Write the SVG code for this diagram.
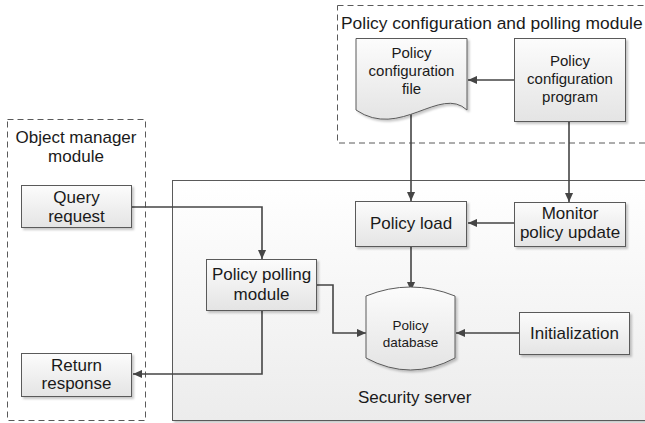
<svg xmlns="http://www.w3.org/2000/svg" width="645" height="423" viewBox="0 0 645 423">
<style>
text{font-family:"Liberation Sans",Arial,sans-serif;fill:#1a1a1a}
.t17{font-size:17px}
.tt{font-size:17.4px}
.t15{font-size:15px}
.t13{font-size:13.5px}
.mid{text-anchor:middle}
.node{fill:url(#g);stroke:#5a5a5a;stroke-width:1;filter:url(#sh)}
.dash{fill:none;stroke:#5a5a5a;stroke-width:1;stroke-dasharray:6,4}
.conn{fill:none;stroke:#454545;stroke-width:1.6;marker-end:url(#ah)}
</style>
<defs>
<linearGradient id="g" x1="0" y1="0" x2="0" y2="1">
<stop offset="0" stop-color="#fcfcfc"/>
<stop offset="1" stop-color="#e4e4e4"/>
</linearGradient>
<linearGradient id="gs" x1="0" y1="0" x2="0" y2="1">
<stop offset="0" stop-color="#ffffff"/>
<stop offset="1" stop-color="#ececec"/>
</linearGradient>
<filter id="sh" x="-10%" y="-10%" width="130%" height="130%">
<feDropShadow dx="2" dy="2" stdDeviation="1.2" flood-color="#000" flood-opacity="0.22"/>
</filter>
<marker id="ah" viewBox="0 0 10 10" refX="10" refY="5" markerWidth="9" markerHeight="9" markerUnits="userSpaceOnUse" orient="auto">
<path d="M0,0.5 L10,5 L0,9.5 Z" fill="#454545"/>
</marker>
</defs>

<g id="policy-config-module">
<rect class="dash" x="337.5" y="5.5" width="330" height="137.5"/>
<text class="tt" x="341" y="28.5">Policy configuration and polling module</text>
</g>

<g id="object-manager-module">
<rect class="dash" x="7.5" y="119.5" width="138" height="301"/>
<text class="t17 mid" x="76" y="143">Object manager</text>
<text class="t17 mid" x="76" y="162">module</text>
</g>

<g id="security-server">
<rect x="172.5" y="180.5" width="500" height="240" fill="url(#gs)" stroke="#5a5a5a" stroke-width="1" filter="url(#sh)"/>
<text class="t17" x="358" y="403">Security server</text>
</g>

<g id="connectors">
<path class="conn" d="M514,80 H468"/>
<path class="conn" d="M411,112 V201"/>
<path class="conn" d="M569,122 V202"/>
<path class="conn" d="M514,223 H468"/>
<path class="conn" d="M411,247 V291"/>
<path class="conn" d="M519,333 H456"/>
<path class="conn" d="M317,285 H333 V333 H366"/>
<path class="conn" d="M132,207 H262 V259"/>
<path class="conn" d="M262,311 V374 H133"/>
</g>

<g id="policy-configuration-file">
<path class="node" d="M356,38.5 H467 V110 C440,85 400,140 356,110 Z"/>
<text class="t15 mid" x="411.5" y="58">Policy</text>
<text class="t15 mid" x="411.5" y="76">configuration</text>
<text class="t15 mid" x="411.5" y="94">file</text>
</g>

<g id="policy-configuration-program">
<rect class="node" x="514.5" y="38.5" width="111" height="83"/>
<text class="t15 mid" x="570" y="66">Policy</text>
<text class="t15 mid" x="570" y="84">configuration</text>
<text class="t15 mid" x="570" y="102">program</text>
</g>

<g id="policy-load">
<rect class="node" x="355.5" y="201.5" width="111" height="45"/>
<text class="t17 mid" x="411" y="229">Policy load</text>
</g>

<g id="monitor-policy-update">
<rect class="node" x="514.5" y="202.5" width="111" height="44"/>
<text class="t17 mid" x="570" y="219">Monitor</text>
<text class="t17 mid" x="570" y="238">policy update</text>
</g>

<g id="policy-database">
<path class="node" d="M366,296 Q410.5,278 455,296 V358 Q410.5,382 366,358 Z"/>
<text class="t13 mid" x="410.5" y="330">Policy</text>
<text class="t13 mid" x="410.5" y="347">database</text>
</g>

<g id="initialization">
<rect class="node" x="519.5" y="312.5" width="110" height="42"/>
<text class="t17 mid" x="574.5" y="339">Initialization</text>
</g>

<g id="query-request">
<rect class="node" x="21.5" y="185.5" width="110" height="42"/>
<text class="t17 mid" x="76.5" y="203">Query</text>
<text class="t17 mid" x="76.5" y="222">request</text>
</g>

<g id="policy-polling-module">
<rect class="node" x="206.5" y="259.5" width="110" height="51"/>
<text class="t17 mid" x="261.5" y="280">Policy polling</text>
<text class="t17 mid" x="261.5" y="300">module</text>
</g>

<g id="return-response">
<rect class="node" x="21.5" y="353.5" width="110" height="43"/>
<text class="t17 mid" x="76.5" y="371">Return</text>
<text class="t17 mid" x="76.5" y="389">response</text>
</g>
</svg>
